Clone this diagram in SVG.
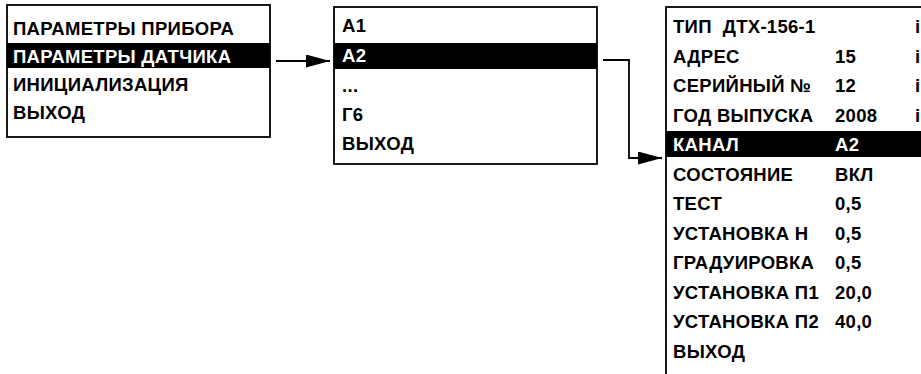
<svg xmlns="http://www.w3.org/2000/svg" width="921" height="374" viewBox="0 0 921 374">
<style>
.box{fill:#fff;stroke:#000;stroke-width:1.8}
.hl{fill:#000}
text{font-family:"Liberation Sans",Arial,sans-serif;font-weight:bold;font-size:18.5px;letter-spacing:0.3px;fill:#000;white-space:pre}
text.w{fill:#fff}
.conn{fill:none;stroke:#000;stroke-width:1.8}
</style>
<defs>
<marker id="ah" markerWidth="26" markerHeight="14" refX="24" refY="6.5" orient="auto" markerUnits="userSpaceOnUse">
<path d="M0,0 L24,6.5 L0,13 Z" fill="#000"/>
</marker>
</defs>
<g id="menu-main">
<rect class="box" x="7" y="5" width="263" height="132"/>
<rect class="hl" x="7" y="43" width="263" height="25"/>
<text x="13" y="35">ПАРАМЕТРЫ ПРИБОРА</text>
<text class="w" x="13" y="63">ПАРАМЕТРЫ ДАТЧИКА</text>
<text x="13" y="91">ИНИЦИАЛИЗАЦИЯ</text>
<text x="13" y="119">ВЫХОД</text>
</g>
<g id="menu-channels">
<rect class="box" x="334" y="7" width="263" height="157"/>
<rect class="hl" x="334" y="43" width="263" height="26"/>
<text x="342" y="32">А1</text>
<text class="w" x="342" y="62">А2</text>
<text x="342" y="92">...</text>
<text x="342" y="121">Г6</text>
<text x="342" y="150">ВЫХОД</text>
</g>
<g id="menu-sensor">
<rect class="box" x="666" y="7" width="270" height="380"/>
<rect class="hl" x="666" y="131" width="260" height="26"/>
<text x="673" y="33">ТИП  ДТХ-156-1</text><text x="915" y="33">i</text>
<text x="673" y="62.5">АДРЕС</text><text x="835" y="62.5">15</text><text x="915" y="62.5">i</text>
<text x="673" y="92">СЕРИЙНЫЙ №</text><text x="835" y="92">12</text><text x="915" y="92">i</text>
<text x="673" y="121.5">ГОД ВЫПУСКА</text><text x="835" y="121.5">2008</text><text x="915" y="121.5">i</text>
<text class="w" x="673" y="151">КАНАЛ</text><text class="w" x="835" y="151">А2</text>
<text x="673" y="180.5">СОСТОЯНИЕ</text><text x="835" y="180.5">ВКЛ</text>
<text x="673" y="210">ТЕСТ</text><text x="835" y="210">0,5</text>
<text x="673" y="239.5">УСТАНОВКА Н</text><text x="835" y="239.5">0,5</text>
<text x="673" y="269">ГРАДУИРОВКА</text><text x="835" y="269">0,5</text>
<text x="673" y="298.5">УСТАНОВКА П1</text><text x="835" y="298.5">20,0</text>
<text x="673" y="328">УСТАНОВКА П2</text><text x="835" y="328">40,0</text>
<text x="673" y="357.5">ВЫХОД</text>
</g>
<g id="connectors">
<path class="conn" d="M276,61 H330" marker-end="url(#ah)"/>
<path class="conn" d="M603,60 H629 V158 H662" marker-end="url(#ah)"/>
</g>
</svg>
